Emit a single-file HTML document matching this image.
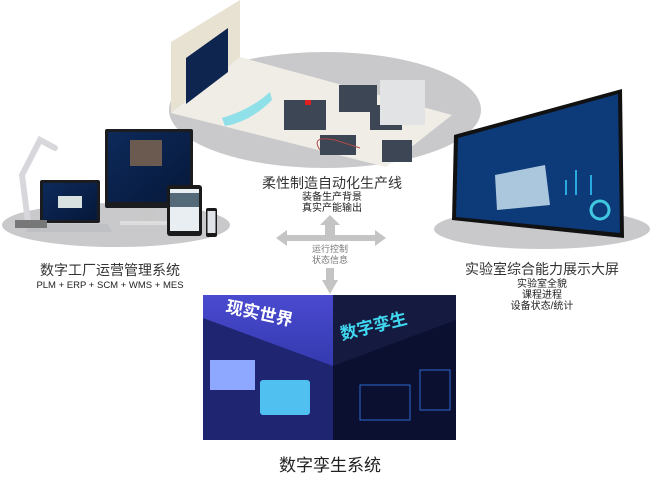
<!DOCTYPE html>
<html><head><meta charset="utf-8"><style>
html,body{margin:0;padding:0;background:#fff;width:650px;height:482px;overflow:hidden}
svg{display:block}
text{font-family:"Liberation Sans","Noto Sans CJK SC",sans-serif}
</style></head><body>
<svg width="650" height="482" viewBox="0 0 650 482" xmlns="http://www.w3.org/2000/svg">
<defs>
<linearGradient id="scr" x1="0" y1="0" x2="1" y2="1"><stop offset="0" stop-color="#0d2a5a"/><stop offset="1" stop-color="#06183a"/></linearGradient>
<linearGradient id="lb" x1="0" y1="0" x2="0" y2="1"><stop offset="0" stop-color="#4a4ad0"/><stop offset="1" stop-color="#1c2a8c"/></linearGradient>
</defs>
<!-- ellipses -->
<ellipse cx="325" cy="110" rx="156" ry="58" fill="#c9c9cc"/>
<ellipse cx="116" cy="225" rx="114" ry="22" fill="#c9c9cc"/>
<ellipse cx="542" cy="229" rx="108" ry="20" fill="#c9c9cc"/>
<!-- room -->
<polygon points="171,42 240,0 240,57 171,113" fill="#e8e2d2"/>
<polygon points="171,113 240,57 452,115 386,167" fill="#efede6"/>
<polygon points="186,58 228,28 228,72 186,104" fill="#0e2550"/>
<g fill="#3c4654">
<rect x="284" y="100" width="42" height="30"/><rect x="339" y="85" width="38" height="27"/>
<rect x="370" y="105" width="32" height="25"/><rect x="320" y="135" width="36" height="20"/>
<rect x="382" y="140" width="30" height="22"/><rect x="380" y="80" width="45" height="45" fill="#e2e3e5"/>
</g>
<rect x="305" y="100" width="6" height="5" fill="#e02020"/>
<path d="M222 118 Q250 110 270 92 L272 100 Q250 122 225 126Z" fill="#8fe0e8"/>
<path d="M320 150 Q310 135 335 140 L360 148" stroke="#b04848" fill="none" stroke-width="1"/>
<!-- left devices -->
<rect x="105" y="129" width="88" height="79" rx="2" fill="#1a1c20"/>
<rect x="108" y="132" width="82" height="70" fill="url(#scr)"/>
<rect x="130" y="140" width="32" height="26" fill="#6a5a50"/>
<rect x="140" y="208" width="14" height="14" fill="#c8c8c8"/><rect x="120" y="221" width="55" height="4" fill="#ddd"/>
<rect x="40" y="180" width="60" height="43" rx="2" fill="#1a1c20"/>
<rect x="43" y="183" width="54" height="37" fill="url(#scr)"/>
<rect x="58" y="196" width="24" height="12" fill="#d8e0e0"/>
<polygon points="30,224 108,224 112,232 26,232" fill="#bfc0c4"/>
<rect x="167" y="185" width="35" height="51" rx="3" fill="#1a1a1a"/><rect x="170" y="189" width="29" height="42" fill="#e8eef2"/>
<rect x="170" y="193" width="29" height="14" fill="#556a78"/>
<rect x="206" y="208" width="11" height="29" rx="2" fill="#1a1a1a"/><rect x="207.5" y="211" width="8" height="22" fill="#e0e4e8"/>
<g stroke="#d8d8dc" stroke-width="6" fill="none" stroke-linecap="round"><path d="M28 222 L22 175 L40 140 L55 148"/></g>
<rect x="15" y="220" width="32" height="8" fill="#777"/>
<!-- right screen -->
<polygon points="454,135 622,89 624,238 452,220" fill="#111"/>
<polygon points="458,138 618,94 620,233 456,217" fill="#0d3a78"/>
<polygon points="495,175 545,165 550,205 497,210" fill="#c8e0f0" opacity=".85"/>
<circle cx="600" cy="210" r="9" fill="none" stroke="#40c8e0" stroke-width="3"/>
<g fill="#2aa8e0"><rect x="565" y="180" width="2" height="15"/><rect x="575" y="170" width="2" height="25"/><rect x="590" y="175" width="2" height="20"/></g>
<!-- arrows -->
<g fill="#c4c4c4">
<polygon points="276,238 287,230 287,235 325,235 325,225 320,225 330,215 340,225 335,225 335,235 375,235 375,230 386,238 375,246 375,241 335,241 335,241 325,241 287,241 287,246"/>
<rect x="326" y="268" width="8" height="14"/>
<polygon points="322,280 338,280 330,294"/>
</g>
<!-- texts -->
<g fill="#222" text-anchor="middle">
<text x="332" y="188" font-size="14" fill="#333">柔性制造自动化生产线</text>
<text x="332" y="200" font-size="10">装备生产背景</text>
<text x="332" y="211" font-size="10">真实产能输出</text>
<text x="330" y="252" font-size="9" fill="#777">运行控制</text>
<text x="330" y="263" font-size="9" fill="#777">状态信息</text>
<text x="110" y="275" font-size="14" fill="#333">数字工厂运营管理系统</text>
<text x="110" y="288" font-size="9.5">PLM + ERP + SCM + WMS + MES</text>
<text x="542" y="274" font-size="14" fill="#333">实验室综合能力展示大屏</text>
<text x="542" y="287" font-size="10">实验室全貌</text>
<text x="542" y="298" font-size="10">课程进程</text>
<text x="542" y="309" font-size="10">设备状态/统计</text>
<text x="330" y="471" font-size="17">数字孪生系统</text>
</g>
<!-- bottom image -->
<rect x="203" y="295" width="131" height="145" fill="url(#lb)"/>
<rect x="333" y="295" width="123" height="145" fill="#151a40"/>
<polygon points="203,318 333,366 333,440 203,440" fill="#1f2570"/>
<polygon points="333,366 456,320 456,440 333,440" fill="#0c1030"/>
<text x="225" y="312" font-size="17" font-weight="bold" fill="#fff" transform="rotate(12 225 312)">现实世界</text>
<text x="342" y="340" font-size="17" font-weight="bold" fill="#40d8f0" transform="rotate(-14 342 340)">数字孪生</text>
<rect x="260" y="380" width="50" height="35" rx="3" fill="#50c0f0"/>
<rect x="210" y="360" width="45" height="30" fill="#8fa8ff"/>
<g stroke="#2a6ad0" fill="none" stroke-width="1"><rect x="360" y="385" width="50" height="35"/><rect x="420" y="370" width="30" height="40"/></g>
</svg>
</body></html>
